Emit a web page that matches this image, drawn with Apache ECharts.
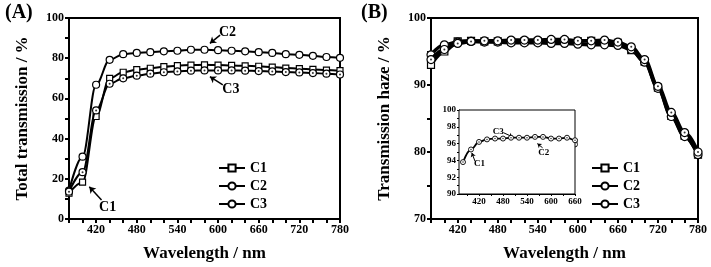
<!DOCTYPE html>
<html>
<head>
<meta charset="utf-8">
<script src="https://cdn.jsdelivr.net/npm/echarts@6/dist/echarts.min.js"></script>
<style>
  html, body { margin: 0; padding: 0; background: #fff; }
  #chart { width: 711px; height: 267px; }
</style>
</head>
<body>
<div id="chart"></div>
<script>
// wavelength of the plotted markers (nm)
const wavelength = [380, 400, 420, 440, 460, 480, 500, 520, 540, 560, 580, 600, 620, 640, 660, 680, 700, 720, 740, 760, 780]

// (A) total transmission / %
const transC1 = [12.8, 18.3, 51.0, 70.0, 73.0, 74.3, 75.0, 75.8, 76.3, 76.6, 76.7, 76.6, 76.4, 76.2, 76.0, 75.6, 75.1, 74.8, 74.4, 74.1, 73.8]
const transC2 = [14.1, 31.0, 66.8, 79.2, 82.0, 82.6, 83.0, 83.4, 83.7, 84.2, 84.2, 84.0, 83.7, 83.4, 83.0, 82.6, 82.0, 81.7, 81.2, 80.6, 80.2]
const transC3 = [13.6, 23.3, 54.0, 67.3, 70.0, 71.3, 72.3, 73.0, 73.4, 73.8, 73.9, 73.9, 73.9, 73.8, 73.6, 73.4, 73.1, 72.9, 72.6, 72.3, 71.9]

// (B) transmission haze / %
const hazeC1 = [93.0, 95.0, 96.5, 96.6, 96.5, 96.5, 96.5, 96.5, 96.5, 96.6, 96.6, 96.5, 96.6, 96.4, 96.3, 95.2, 93.5, 89.6, 85.4, 82.4, 79.6]
const hazeC2 = [94.5, 96.0, 96.4, 96.5, 96.4, 96.4, 96.3, 96.3, 96.3, 96.2, 96.2, 96.1, 96.0, 96.0, 95.9, 95.3, 93.4, 89.5, 85.3, 82.3, 79.6]
const hazeC3 = [93.8, 95.3, 96.2, 96.5, 96.6, 96.6, 96.7, 96.7, 96.7, 96.8, 96.8, 96.6, 96.6, 96.7, 96.4, 95.7, 93.8, 89.8, 85.9, 82.9, 80.0]

const seriesNames = ['C1', 'C2', 'C3']
const insetLabels = [420, 480, 540, 600, 660]
const insetTicks = [390, 420, 450, 480, 510, 540, 570, 600, 630, 660]

const FONT = '"Liberation Serif", "DejaVu Serif", serif'

const pairs = (ys) => wavelength.map((x, i) => [x, ys[i]])

const chart = echarts.init(document.getElementById('chart'))

const baseX = (gridIndex) => ({
  type: 'value',
  gridIndex,
  min: 380,
  max: 780,
  interval: 20,
  name: 'Wavelength / nm',
  nameLocation: 'middle',
  nameGap: 26,
  nameTextStyle: { fontFamily: FONT, fontWeight: 'bold', fontSize: 17, color: '#000' },
  axisLine: { lineStyle: { color: '#000', width: 2 } },
  axisTick: { inside: false, length: 4, lineStyle: { color: '#000', width: 2 } },
  axisLabel: {
    fontFamily: FONT, fontWeight: 'bold', fontSize: 12, color: '#000', margin: 5,
    formatter: v => (v >= 420 && (v - 420) % 60 === 0) ? String(v) : ''
  },
  splitLine: { show: false }
})

const baseY = (gridIndex, min, max, step, labelStep, name) => ({
  type: 'value',
  gridIndex,
  min, max,
  interval: step,
  name,
  nameLocation: 'middle',
  nameGap: 38,
  nameTextStyle: { fontFamily: FONT, fontWeight: 'bold', fontSize: 17, color: '#000' },
  axisLine: { show: true, lineStyle: { color: '#000', width: 2 } },
  axisTick: { show: true, length: 4, lineStyle: { color: '#000', width: 2 } },
  axisLabel: {
    fontFamily: FONT, fontWeight: 'bold', fontSize: 12, color: '#000', margin: 5,
    formatter: v => ((v - min) % labelStep === 0) ? String(v) : ''
  },
  splitLine: { show: false }
})

const makeLines = (xi, data, opt) => {
  const out = []
  const syms = ['rect', 'circle', 'circle']
  seriesNames.forEach((name, k) => {
    out.push({
      name,
      type: 'line',
      xAxisIndex: xi,
      yAxisIndex: xi,
      data: pairs(data[k]),
      smooth: 0.35,
      smoothMonotone: 'x',
      symbol: syms[k],
      symbolSize: k === 0 ? opt.sq : opt.ci,
      showAllSymbol: true,
      clip: true,
      lineStyle: { color: '#000', width: opt.lw },
      itemStyle: { color: '#fff', borderColor: '#000', borderWidth: opt.bw },
      z: 3 + k
    })
  })
  // centre dots of the C3 markers
  out.push({
    name: 'C3dot',
    type: 'scatter',
    xAxisIndex: xi,
    yAxisIndex: xi,
    data: pairs(data[2]),
    symbol: 'circle',
    symbolSize: opt.dot,
    itemStyle: { color: '#000' },
    clip: true,
    silent: true,
    z: 10
  })
  return out
}

const arrow = (x1, y1, x2, y2) => [{ coord: [x1, y1] }, { coord: [x2, y2] }]
const tag = (text, x, y, size) => ({
  coord: [x, y],
  symbolSize: 1,
  itemStyle: { color: 'transparent' },
  label: { show: true, position: 'inside', formatter: text, fontFamily: FONT, fontWeight: 'bold', fontSize: size, color: '#000' }
})

const notes = (arrows, tags, size) => ({
  name: 'notes',
  type: 'line',
  data: [],
  markLine: {
    silent: true,
    symbol: ['none', 'arrow'],
    symbolSize: size < 12 ? 4 : 6,
    label: { show: false },
    lineStyle: { color: '#000', width: size < 12 ? 1 : 1.5, type: 'solid' },
    data: arrows
  },
  markPoint: { silent: true, data: tags }
})

const seriesA = makeLines(0, [transC1, transC2, transC3], { lw: 2, sq: 6, ci: 7, bw: 1.2, dot: 2 })
const seriesB = makeLines(1, [hazeC1, hazeC2, hazeC3], { lw: 3.5, sq: 7, ci: 8, bw: 1.2, dot: 2 })
const seriesI = makeLines(2, [hazeC1, hazeC2, hazeC3], { lw: 1.8, sq: 4, ci: 5, bw: 0.9, dot: 1.5 })

const notesA = Object.assign(notes(
  [arrow(603, 91.5, 588, 87.4), arrow(607, 66.7, 588, 70.8), arrow(428, 9.5, 410, 16)],
  [tag('C2', 614, 92.5, 14), tag('C3', 619, 64.2, 14), tag('C1', 437, 5.5, 14)], 14
), { xAxisIndex: 0, yAxisIndex: 0 })

const notesI = Object.assign(notes(
  [arrow(481, 97.3, 504, 96.8), arrow(579, 95.5, 566, 96.0), arrow(410, 93.9, 402, 94.9)],
  [tag('C3', 468, 97.4, 9), tag('C2', 582, 94.9, 9), tag('C1', 421, 93.5, 9)], 9
), { xAxisIndex: 2, yAxisIndex: 2 })

const legendStyle = (left) => ({
  data: seriesNames,
  orient: 'vertical',
  left,
  top: 156,
  itemWidth: 26,
  itemHeight: 9,
  itemGap: 4,
  selectedMode: false,
  textStyle: { fontFamily: FONT, fontWeight: 'bold', fontSize: 14, color: '#000' }
})

const insetX = {
  type: 'value',
  gridIndex: 2,
  min: 370,
  max: 660,
  axisLine: { lineStyle: { color: '#000', width: 1 } },
  axisTick: { length: 2, customValues: insetTicks, lineStyle: { color: '#000' } },
  axisLabel: { customValues: insetLabels, fontFamily: FONT, fontWeight: 'bold', fontSize: 9, color: '#000', margin: 3 },
  splitLine: { show: false }
}
const insetY = {
  type: 'value',
  gridIndex: 2,
  min: 90,
  max: 100,
  interval: 1,
  axisLine: { show: true, lineStyle: { color: '#000', width: 1 } },
  axisTick: { show: true, length: 2, lineStyle: { color: '#000' } },
  axisLabel: {
    fontFamily: FONT, fontWeight: 'bold', fontSize: 9, color: '#000', margin: 3,
    formatter: v => (v % 2 === 0) ? String(v) : ''
  },
  splitLine: { show: false }
}

const option = {
  animation: false,
  backgroundColor: '#fff',
  grid: [
    { left: 69, top: 18, width: 271, height: 201, show: true, borderColor: '#000', borderWidth: 2 },
    { left: 431, top: 18, width: 267, height: 201, show: true, borderColor: '#000', borderWidth: 2 },
    { left: 459, top: 110, width: 116, height: 84, show: true, borderColor: '#000', borderWidth: 1, backgroundColor: '#fff', z: 5 }
  ],
  title: [
    { text: '(A)', left: 0, top: -2, textStyle: { fontFamily: FONT, fontWeight: 'bold', fontSize: 20, color: '#000' } },
    { text: '(B)', left: 356, top: -2, textStyle: { fontFamily: FONT, fontWeight: 'bold', fontSize: 20, color: '#000' } }
  ],
  legend: [legendStyle(213), legendStyle(586)],
  xAxis: [baseX(0), baseX(1), insetX],
  yAxis: [
    baseY(0, 0, 100, 10, 20, 'Total transmission / %'),
    baseY(1, 70, 100, 5, 10, 'Transmission haze / %'),
    insetY
  ],
  series: [...seriesA, ...seriesB, ...seriesI, notesA, notesI]
}

chart.setOption(option)
</script>
</body>
</html>
